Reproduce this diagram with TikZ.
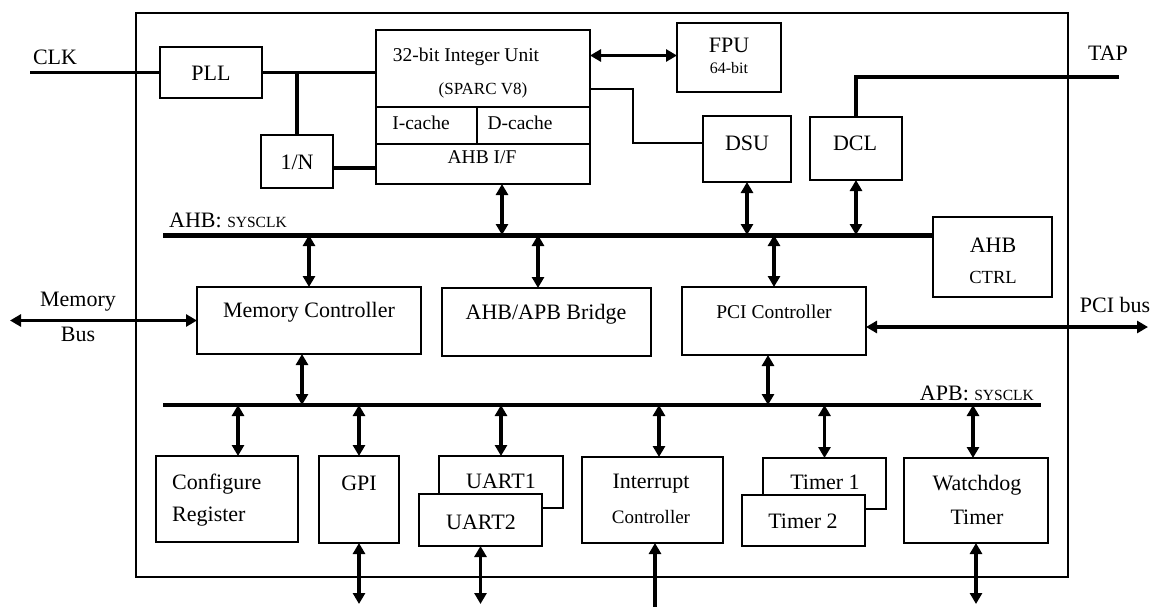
\documentclass[tikz,border=0pt]{standalone}
\usepackage{fontspec}
\setmainfont{Liberation Serif}
\usetikzlibrary{arrows.meta}

\newcommand{\fbig}{\fontsize{22}{26}\selectfont}
\newcommand{\fmid}{\fontsize{19.5}{23}\selectfont}
\newcommand{\fsmall}{\fontsize{17}{20}\selectfont}
\newcommand{\ftiny}{\fontsize{16}{19}\selectfont}
\newcommand{\fclk}{\fontsize{15.5}{18}\selectfont}

% \unitbox[options]{name}{x1}{y1}{x2}{y2}: a block given by its corners
\newcommand{\unitbox}[6][]{%
  \node[blk,#1,minimum width={(#5-#3)*1pt},minimum height={(#6-#4)*1pt}]
    (#2) at ({(#3+#5)/2},{(#4+#6)/2}) {};}

\begin{document}
\begin{tikzpicture}[x=1pt,y=-1pt,
  blk/.style={draw,line width=2.1pt,fill=white,inner sep=0pt,outer sep=0pt},
  lbl/.style={inner sep=0pt,font=\fbig},
  wire/.style={line width=3.8pt},
  thinwire/.style={line width=1.7pt},
  ahbbus/.style={line width=5pt},
  apbbus/.style={line width=4pt},
  dlink/.style={line width=3.4pt,{Triangle[length=11pt,width=12pt]}-{Triangle[length=11pt,width=12pt]}},
  ulink/.style={line width=3.4pt,-{Triangle[length=11pt,width=12pt]}},
]
\useasboundingbox (0,0) rectangle (1150,607);
\fill[white] (0,0) rectangle (1150,607);

% chip outline
\unitbox[line width=2.5pt,fill=none]{chip}{136}{13}{1068}{577}

% processor core area
\unitbox{pll}{160}{47}{262}{98}
\unitbox{divn}{261}{135}{333}{188}
\unitbox{iu}{376}{30}{590}{184}
\unitbox{fpu}{677}{23}{781}{92}
\unitbox{dsu}{703}{116}{791}{182}
\unitbox{dcl}{810}{117}{902}{180}
\unitbox{ahbctrl}{933}{217}{1052}{297}

% AHB slaves
\unitbox{memctrl}{197}{287}{421}{354}
\unitbox{bridge}{442}{288}{651}{356}
\unitbox{pcictrl}{682}{287}{866}{355}

% APB peripherals
\unitbox{cfg}{156}{456}{298}{542}
\unitbox{gpi}{319}{456}{399}{543}
\unitbox{uart1}{439}{456}{563}{508}
\unitbox{uart2}{419}{494}{542}{546}
\unitbox{intc}{582}{457}{723}{543}
\unitbox{timer1}{763}{458}{886}{509}
\unitbox{timer2}{742}{495}{865}{546}
\unitbox{wdog}{904}{458}{1048}{543}

% integer unit subdivisions
\draw[line width=1.8pt] (iu.west |- 0,107) -- (iu.east |- 0,107);
\draw[line width=1.8pt] (iu.west |- 0,144) -- (iu.east |- 0,144);
\draw[line width=1.8pt] (477,107) -- (477,144);

% clock distribution
\coordinate (clkin) at (30,72.5);
\draw[wire] (clkin) -- (pll.west);
\draw[wire] (pll.east) -- (pll.east -| iu.west);
\draw[wire] (divn.north |- pll.east) -- (divn.north);
\coordinate (divo) at ([yshift=-6.5pt]divn.east);
\draw[wire] (divo) -- (divo -| iu.west);

% FPU, DSU and DCL links
\coordinate (fpuA) at ([yshift=2pt]fpu.west);
\draw[dlink] (iu.east |- fpuA) -- (fpuA);
\draw[thinwire] (iu.east |- 0,89) -- (633,89) |- ([yshift=6pt]dsu.west);
\coordinate (tap) at (1119,77);
\draw[wire] (dcl.north) |- (tap);

% AHB bus
\coordinate (ahbL) at (163,235);
\draw[ahbbus] (ahbL) -- (ahbL -| ahbctrl.west);
\coordinate (iuA) at ([xshift=19pt]iu.south);
\draw[dlink] (iuA) -- (iuA |- ahbL);
\draw[dlink] (dsu.south) -- (dsu.south |- ahbL);
\draw[dlink] (dcl.south) -- (dcl.south |- ahbL);
\draw[dlink] (memctrl.north |- ahbL) -- (memctrl.north);
\coordinate (brA) at ([xshift=-8.5pt]bridge.north);
\draw[dlink] (brA |- ahbL) -- (brA);
\draw[dlink] (pcictrl.north |- ahbL) -- (pcictrl.north);

% external buses
\coordinate (membus) at (10,320.5);
\draw[dlink] (membus) -- (memctrl.west);
\coordinate (pciA) at ([yshift=-6pt]pcictrl.east);
\coordinate (pcibus) at (1148,327);
\draw[dlink] (pciA) -- (pcibus);

% APB bus
\coordinate (apbL) at (163,405);
\coordinate (apbR) at (1041,405);
\draw[apbbus] (apbL) -- (apbR);
\coordinate (mcB) at ([xshift=-7pt]memctrl.south);
\draw[dlink] (mcB) -- (mcB |- apbL);
\coordinate (pcB) at ([xshift=-6pt]pcictrl.south);
\draw[dlink] (pcB) -- (pcB |- apbL);
\coordinate (cfgT) at ([xshift=11pt]cfg.north);
\draw[dlink] (cfgT |- apbL) -- (cfgT);
\draw[dlink] (gpi.north |- apbL) -- (gpi.north);
\draw[dlink] (uart1.north |- apbL) -- (uart1.north);
\coordinate (intcT) at ([xshift=6.5pt]intc.north);
\draw[dlink] (intcT |- apbL) -- (intcT);
\draw[dlink] (timer1.north |- apbL) -- (timer1.north);
\coordinate (wdT) at ([xshift=-3pt]wdog.north);
\draw[dlink] (wdT |- apbL) -- (wdT);

% pins leaving the chip
\coordinate (pins) at (0,604);
\coordinate (edge) at (0,607);
\draw[dlink] (gpi.south) -- (gpi.south |- pins);
\draw[dlink] (uart2.south) -- (uart2.south |- pins);
\coordinate (intcB) at ([xshift=2.5pt]intc.south);
\draw[ulink] (intcB |- edge) -- (intcB);
\draw[dlink] (wdog.south) -- (wdog.south |- pins);

% labels
\node[lbl] (tclk) at (55,57) {CLK};
\node[lbl] (tpll) at (211,73) {PLL};
\node[lbl] (tdiv) at (297,162) {1/N};
\node[lbl,font=\fmid] (tiu) at (466,57) {32-bit Integer Unit};
\node[lbl,font=\fsmall] (tsparc) at (483,90) {(SPARC V8)};
\node[lbl,font=\fmid] (tic) at (421,123) {I-cache};
\node[lbl,font=\fmid] (tdc) at (520,123) {D-cache};
\node[lbl,font=\fmid] (tif) at (482,157) {AHB I/F};
\node[lbl] (tfpu) at (729,45) {FPU};
\node[lbl,font=\ftiny] (tfpw) at (729,68) {64-bit};
\node[lbl] (tdsu) at (747,143) {DSU};
\node[lbl] (tdcl) at (855,143) {DCL};
\node[lbl] (ttap) at (1108,53) {TAP};
\node[lbl,anchor=base west] (tahb) at (169,227) {AHB: {\fclk SYSCLK}};
\node[lbl] (tac1) at (993,245) {AHB};
\node[lbl,font=\fontsize{18.5}{22}\selectfont] (tac2) at (993,277) {CTRL};
\node[lbl] (tmem1) at (78,302) {Memory};
\node[lbl] (tmem2) at (78,334) {Bus};
\node[lbl] (tmc) at (309,312) {Memory Controller};
\node[lbl] (tbr) at (546,314) {AHB/APB Bridge};
\node[lbl,font=\fmid] (tpci) at (774,312) {PCI Controller};
\node[lbl] (tpcib) at (1115,305) {PCI bus};
\node[lbl,anchor=base east] (tapb) at (1034,400) {APB: {\fclk SYSCLK}};
\node[lbl,anchor=west] (tcfg1) at (172,484) {Configure};
\node[lbl,anchor=west] (tcfg2) at (172,517) {Register};
\node[lbl] (tgpi) at (359,483) {GPI};
\node[lbl] (tu1) at (501,481.5) {UART1};
\node[lbl] (tu2) at (481,522) {UART2};
\node[lbl] (tint1) at (651,484) {Interrupt};
\node[lbl,font=\fontsize{19}{22}\selectfont] (tint2) at (651,517) {Controller};
\node[lbl] (tt1) at (825,482) {Timer 1};
\node[lbl] (tt2) at (803,521) {Timer 2};
\node[lbl] (twd1) at (977,485) {Watchdog};
\node[lbl] (twd2) at (977,517) {Timer};
\end{tikzpicture}
\end{document}
